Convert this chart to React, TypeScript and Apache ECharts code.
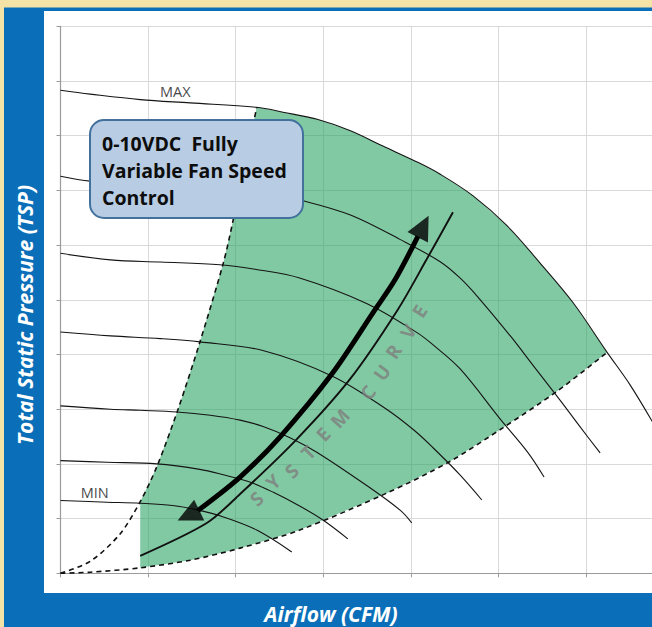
import React, { useEffect, useRef } from "react";
import * as echarts from "echarts";

// Fan curves (airflow units, pressure units)
const MAX_CURVE = [[0,8.83],[0.34,8.76],[0.91,8.66],[1.48,8.60],[2.24,8.52],[2.54,8.43],[2.93,8.30],[3.31,8.09],[3.68,7.81],[4.07,7.52],[4.33,7.30],[4.71,6.90],[5.10,6.35],[5.47,5.68],[5.85,4.95],[6.24,4.04],[6.50,3.45],[6.79,2.68]];
const FAN_2 = [[0,7.26],[0.34,7.17],[0.79,7.13],[1.36,7.07],[1.94,7.00],[2.39,6.93],[2.77,6.81],[3.31,6.55],[3.88,6.10],[4.33,5.70],[4.56,5.40],[4.76,5.06],[5.14,4.33],[5.39,3.81],[5.70,3.17],[5.93,2.68],[6.16,2.20]];
const FAN_3 = [[0,5.85],[0.57,5.73],[1.14,5.69],[1.82,5.64],[2.22,5.56],[2.73,5.40],[3.50,4.93],[4.07,4.40],[4.25,4.18],[4.56,3.74],[5.02,2.82],[5.33,2.22],[5.52,1.76]];
const FAN_4 = [[0,4.41],[0.57,4.34],[1.14,4.29],[1.59,4.23],[2.32,4.07],[3.11,3.60],[3.73,2.99],[4.04,2.61],[4.25,2.30],[4.56,1.80],[4.81,1.34]];
const FAN_5 = [[0,3.06],[0.57,3.00],[0.91,2.98],[1.33,2.95],[1.71,2.89],[2.05,2.80],[2.32,2.68],[2.62,2.48],[2.93,2.21],[3.50,1.60],[3.88,1.15],[4.01,0.92]];
const FAN_6 = [[0,2.06],[0.53,2.03],[1.10,2.00],[1.59,1.90],[1.86,1.80],[2.16,1.67],[2.43,1.48],[2.73,1.23],[3.00,0.97],[3.28,0.63]];
const MIN_CURVE = [[0,1.33],[0.53,1.30],[0.91,1.28],[1.28,1.24],[1.56,1.16],[1.86,1.03],[2.24,0.79],[2.64,0.39]];
const FAN_CURVES = [MAX_CURVE, FAN_2, FAN_3, FAN_4, FAN_5, FAN_6, MIN_CURVE];

// Dashed operating limits
const LEFT_LIMIT = [[0,0],[0.34,0.22],[0.68,0.72],[0.91,1.31],[1.10,1.95],[1.34,2.99],[1.59,4.22],[1.86,5.68],[1.97,6.45],[2.24,8.52]];
const RIGHT_LIMIT = [[0,0],[0.34,0.02],[0.91,0.10],[1.48,0.24],[2.05,0.46],[2.73,0.79],[3.73,1.47],[4.44,2.04],[5.05,2.66],[5.68,3.34],[6.24,4.04]];

// System curve and the double arrow beside it
const SYSTEM_CURVE = [[0.91,0.32],[1.67,0.92],[2.05,1.45],[2.69,2.44],[3.30,3.54],[3.85,4.82],[4.18,5.74],[4.48,6.60]];
const ARROW_PATH = [[1.57,1.15],[2.05,1.76],[2.51,2.50],[3.11,3.67],[3.57,4.77],[3.82,5.37],[4.08,6.16]];
const ARROW_HEADS = [[4.14,6.34],[1.46,1.06]];
const ARROW_ROT = [-27, 116];

// "SYSTEM CURVE" letters
const SC_LETTERS = ["S","Y","S","T","E","M","C","U","R","V","E"];
const SC_X = [2.24,2.43,2.64,2.83,3.00,3.19,3.51,3.67,3.80,3.97,4.10];
const SC_Y = [1.36,1.67,1.87,2.21,2.54,2.83,3.30,3.67,4.05,4.42,4.79];
const SC_ROT = [42,43,45,46,47,48,52,54,56,57,58];

const CURVE_LABELS = ["MAX", "MIN"];
const CURVE_LABEL_POS = [[1.31,8.81],[0.39,1.48]];

const BOX_LINES = ["0-10VDC  Fully", "Variable Fan Speed", "Control"];
const X_TITLE = "Airflow (CFM)";
const Y_TITLE = "Total Static Pressure (TSP)";

const GREEN = [
  ...RIGHT_LIMIT.filter((p) => p[0] === 0.91),
  ...LEFT_LIMIT.filter((p) => p[0] >= 0.91),
  ...MAX_CURVE.filter((p) => p[0] > 2.24 && p[0] <= 6.24),
  ...RIGHT_LIMIT.filter((p) => p[0] > 0.91 && p[0] < 6.24).reverse(),
];

export default function App() {
  const ref = useRef<HTMLDivElement>(null);
  useEffect(() => {
    if (!ref.current) return;
    const chart = echarts.init(ref.current, null, { renderer: "svg" });
    const thin = { color: "#141414", width: 1.1 };
    const letterLabel = {
      show: true,
      position: "inside",
      color: "#7f7f7f",
      fontSize: 19,
      fontWeight: "bold",
      fontFamily: "'Open Sans'",
    };
    const series: any[] = [
      {
        type: "custom",
        coordinateSystem: "cartesian2d",
        data: [[0, 0]],
        silent: true,
        z: 1,
        renderItem: (_p: any, api: any) => ({
          type: "polygon",
          shape: { points: GREEN.map((p) => api.coord(p)) },
          style: { fill: "rgba(38,162,96,0.58)" },
        }),
      },
      ...FAN_CURVES.map((c) => ({
        type: "line",
        data: c,
        showSymbol: false,
        smooth: 0.35,
        lineStyle: thin,
        z: 3,
        silent: true,
      })),
      ...[LEFT_LIMIT, RIGHT_LIMIT].map((c) => ({
        type: "line",
        data: c,
        showSymbol: false,
        smooth: 0.3,
        lineStyle: { color: "#111", width: 1.6, type: [5, 4] },
        z: 3,
        silent: true,
      })),
      {
        type: "line",
        data: SYSTEM_CURVE,
        showSymbol: false,
        smooth: 0.3,
        lineStyle: { color: "#111", width: 1.9 },
        z: 4,
        silent: true,
      },
      {
        type: "line",
        data: ARROW_PATH,
        showSymbol: false,
        smooth: 0.3,
        lineStyle: { color: "#000", width: 5 },
        z: 4,
        silent: true,
      },
      {
        type: "scatter",
        data: ARROW_HEADS.map((p, i) => ({ value: p, symbolRotate: ARROW_ROT[i] })),
        symbol: "triangle",
        symbolSize: [23, 24],
        itemStyle: { color: "#000" },
        z: 5,
        silent: true,
      },
      {
        type: "scatter",
        data: SC_LETTERS.map((ch, i) => ({
          value: [SC_X[i], SC_Y[i]],
          label: { ...letterLabel, formatter: ch, rotate: SC_ROT[i] },
        })),
        symbolSize: 1,
        itemStyle: { color: "rgba(0,0,0,0)" },
        label: letterLabel,
        z: 5,
        silent: true,
      },
      {
        type: "scatter",
        data: CURVE_LABEL_POS,
        symbolSize: 1,
        itemStyle: { color: "rgba(0,0,0,0)" },
        label: {
          show: true,
          position: "inside",
          formatter: (p: any) => CURVE_LABELS[p.dataIndex],
          color: "#111111",
          fontSize: 14.5,
          fontFamily: "Open Sans",
        },
        z: 5,
        silent: true,
      },
    ];
    chart.setOption({
      animation: false,
      backgroundColor: "#f5e2a6",
      grid: { left: 60.5, top: 26.3, width: 613.2, height: 547 },
      xAxis: {
        type: "value",
        min: 0,
        max: 7,
        interval: 1,
        axisLabel: { show: false },
        axisLine: { show: true, lineStyle: { color: "#9a9a9a", width: 1.2 } },
        axisTick: { show: true, length: 4, lineStyle: { color: "#9a9a9a" } },
        splitLine: { show: true, lineStyle: { color: "#d9d9d9", width: 1 } },
      },
      yAxis: {
        type: "value",
        min: 0,
        max: 10,
        interval: 1,
        axisLabel: { show: false },
        axisLine: { show: true, lineStyle: { color: "#9a9a9a", width: 1.2 } },
        axisTick: { show: true, length: 4, lineStyle: { color: "#9a9a9a" } },
        splitLine: { show: true, lineStyle: { color: "#d9d9d9", width: 1 } },
      },
      graphic: [
        { type: "rect", z: -20, silent: true, shape: { x: 4, y: 7.5, width: 720, height: 640 }, style: { fill: "#0a6fb8" } },
        { type: "rect", z: -19, silent: true, shape: { x: 44, y: 11, width: 720, height: 582 }, style: { fill: "#ffffff" } },
        {
          type: "text",
          z: 100,
          x: 331,
          y: 614,
          style: {
            text: X_TITLE,
            fill: "#ffffff",
            font: "italic bold 21px 'Open Sans'",
            align: "center",
            verticalAlign: "middle",
          },
        },
        {
          type: "text",
          z: 100,
          x: 25,
          y: 315,
          rotation: Math.PI / 2,
          style: {
            text: Y_TITLE,
            fill: "#ffffff",
            font: "italic bold 21px 'Open Sans'",
            align: "center",
            verticalAlign: "middle",
          },
        },
        {
          type: "rect",
          z: 100,
          shape: { x: 90, y: 120, width: 213, height: 98, r: 14 },
          style: { fill: "#b8cce4", stroke: "#41719c", lineWidth: 2 },
        },
        {
          type: "text",
          z: 101,
          x: 102,
          y: 130,
          style: {
            text: BOX_LINES.join("\n"),
            fill: "#0d0d0d",
            font: "bold 19.5px 'Open Sans'",
            lineHeight: 27,
            align: "left",
            verticalAlign: "top",
          },
        },
      ],
      series,
    });
    return () => chart.dispose();
  }, []);
  return (
    <div style={{ position: "fixed", left: 0, top: 0, width: 652, height: 627, overflow: "hidden" }}>
      <div ref={ref} style={{ width: 720, height: 627 }} />
    </div>
  );
}
